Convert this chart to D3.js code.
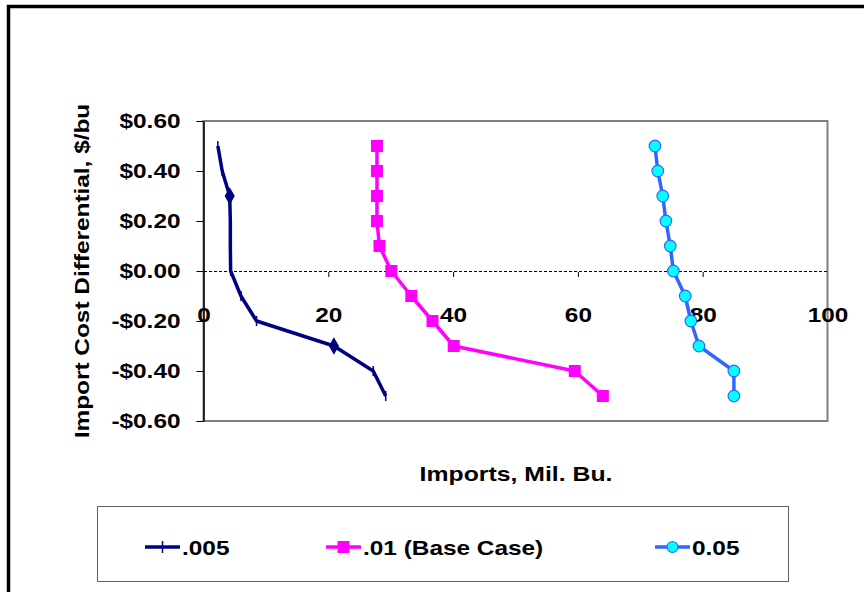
<!DOCTYPE html>
<html>
<head>
<meta charset="utf-8">
<script src="https://cdn.jsdelivr.net/npm/d3@7"></script>
<style>
  html, body { margin: 0; padding: 0; background: #fff; }
  svg { display: block; font-family: "Liberation Sans", Arial, sans-serif; }
</style>
</head>
<body>
<svg id="chart" width="864" height="592"></svg>
<script>
// Cost differential levels ($/bu), shared by all three series
const costDiff = [0.5, 0.4, 0.3, 0.2, 0.1, 0.0, -0.1, -0.2, -0.3, -0.4, -0.5];

// Imports (Mil. Bu.) by scenario
const imports005 = [2.3, 3.0, 4.2, 4.3, 4.3, 4.35, 6.0, 8.5, 20.9, 27.2, 29.2];
const imports01  = [27.8, 27.8, 27.8, 27.8, 28.2, 30.1, 33.3, 36.7, 40.1, 59.5, 64.0];
const imports05  = [72.35, 72.8, 73.6, 74.1, 74.8, 75.3, 77.2, 78.1, 79.4, 85.0, 85.0];

const seriesNames = [".005", ".01 (Base Case)", "0.05"];
const xTicks = [0, 20, 40, 60, 80, 100];
const yTicks = [0.6, 0.4, 0.2, 0.0, -0.2, -0.4, -0.6];

const FONT = "20.5px";
const SX = 1.19;   // wide lettering

const svg = d3.select("#chart");

// outer chart frame (left and top edges fall inside the view)
svg.append("rect")
  .attr("x", 8.5).attr("y", 6.5)
  .attr("width", 900).attr("height", 700)
  .attr("fill", "none").attr("stroke", "#000").attr("stroke-width", 3.5);

const plot = { left: 203.5, right: 827.5, top: 121, bottom: 421 };

const x = d3.scaleLinear().domain([0, 100]).range([plot.left, plot.right]);
const y = d3.scaleLinear().domain([-0.6, 0.6]).range([plot.bottom, plot.top]);

// plot area border
svg.append("rect")
  .attr("x", plot.left).attr("y", plot.top)
  .attr("width", plot.right - plot.left).attr("height", plot.bottom - plot.top)
  .attr("fill", "none").attr("stroke", "#7f7f7f").attr("stroke-width", 2);

// y axis
const yAxis = d3.axisLeft(y).tickValues(yTicks).tickSize(7).tickSizeOuter(0)
  .tickFormat(d => (d < 0 ? "-$" : "$") + Math.abs(d).toFixed(2));
const gy = svg.append("g").attr("transform", `translate(${plot.left},0)`).call(yAxis);
gy.select(".domain").attr("stroke", "#000").attr("stroke-width", 1.5);
gy.selectAll(".tick line").attr("stroke", "#000").attr("stroke-width", 1);
gy.selectAll(".tick text")
  .attr("x", -23 / SX)
  .attr("transform", `scale(${SX},1)`)
  .attr("fill", "#000")
  .style("font-size", FONT).style("font-weight", "bold");

// x axis sits at zero cost differential, dashed
const y0 = y(0);
const xAxis = d3.axisBottom(x).tickValues(xTicks).tickSize(6).tickSizeOuter(0);
const gx = svg.append("g").attr("transform", `translate(0,${y0})`).call(xAxis);
gx.select(".domain").attr("stroke", "#000").attr("stroke-width", 1)
  .attr("stroke-dasharray", "3,2");
gx.selectAll(".tick line").attr("stroke", "#000").attr("stroke-width", 1)
  .attr("y1", 1).attr("y2", 6);
gx.selectAll(".tick text")
  .attr("y", 51).attr("dy", null)
  .attr("transform", `scale(${SX},1)`)
  .attr("fill", "#000")
  .style("font-size", FONT).style("font-weight", "bold");
gx.selectAll(".tick").filter(d => d === 0 || d === 100).select("line").remove();

// axis titles
svg.append("text")
  .attr("transform", `translate(516,481) scale(${SX + 0.02},1)`)
  .attr("text-anchor", "middle")
  .style("font-size", FONT).style("font-weight", "bold")
  .text("Imports, Mil. Bu.");

svg.append("text")
  .attr("transform", `translate(89,271) rotate(-90) scale(${SX},1)`)
  .attr("text-anchor", "middle")
  .style("font-size", FONT).style("font-weight", "bold")
  .text("Import Cost Differential, $/bu");

const line = d3.line().x(d => x(d[0])).y(d => y(d[1]));
const pts = arr => arr.map((v, i) => [v, costDiff[i]]);

// .005 scenario: navy line with tick markers, diamonds at ±0.30
const s1 = pts(imports005);
svg.append("path").datum(s1).attr("d", line)
  .attr("fill", "none").attr("stroke", "#000080").attr("stroke-width", 3.5)
  .attr("stroke-linejoin", "round");
svg.append("g").selectAll("line").data(s1.filter(d => Math.abs(d[1]) !== 0.3)).join("line")
  .attr("x1", d => x(d[0])).attr("x2", d => x(d[0]))
  .attr("y1", d => y(d[1]) - 5).attr("y2", d => y(d[1]) + 5)
  .attr("stroke", "#000080").attr("stroke-width", 1.5);
svg.append("g").selectAll("path").data(s1.filter(d => Math.abs(d[1]) === 0.3)).join("path")
  .attr("d", d3.symbol(d3.symbolDiamond, 90))
  .attr("transform", d => `translate(${x(d[0])},${y(d[1])})`)
  .attr("fill", "#000080");

// .01 base case: magenta line with square markers
const s2 = pts(imports01);
svg.append("path").datum(s2).attr("d", line)
  .attr("fill", "none").attr("stroke", "#ff00ff").attr("stroke-width", 3.5)
  .attr("stroke-linejoin", "round");
svg.append("g").selectAll("rect").data(s2).join("rect")
  .attr("x", d => x(d[0]) - 6).attr("y", d => y(d[1]) - 6)
  .attr("width", 12).attr("height", 12)
  .attr("fill", "#ff00ff");

// 0.05 scenario: blue line with cyan circle markers
const s3 = pts(imports05);
svg.append("path").datum(s3).attr("d", line)
  .attr("fill", "none").attr("stroke", "#3366ff").attr("stroke-width", 3.5)
  .attr("stroke-linejoin", "round");
svg.append("g").selectAll("circle").data(s3).join("circle")
  .attr("cx", d => x(d[0])).attr("cy", d => y(d[1]))
  .attr("r", 5.8)
  .attr("fill", "#00ffff").attr("stroke", "#3366ff").attr("stroke-width", 1.2);

// legend
const legend = svg.append("g");
legend.append("rect")
  .attr("x", 97.5).attr("y", 506.5).attr("width", 691).attr("height", 75)
  .attr("fill", "#fff").attr("stroke", "#606060").attr("stroke-width", 1);

const legendItems = [
  { name: seriesNames[0], color: "#000080", x0: 145, marker: "tick" },
  { name: seriesNames[1], color: "#ff00ff", x0: 326, marker: "square" },
  { name: seriesNames[2], color: "#3366ff", x0: 655, marker: "circle" }
];
const ly = 547;
legendItems.forEach(it => {
  const g = legend.append("g");
  g.append("line").attr("x1", it.x0).attr("x2", it.x0 + 35)
    .attr("y1", ly).attr("y2", ly)
    .attr("stroke", it.color).attr("stroke-width", 3.5);
  const cx = it.x0 + 17.5;
  if (it.marker === "tick") {
    g.append("line").attr("x1", cx).attr("x2", cx).attr("y1", ly - 6).attr("y2", ly + 6)
      .attr("stroke", it.color).attr("stroke-width", 1.5);
  } else if (it.marker === "square") {
    g.append("rect").attr("x", cx - 6).attr("y", ly - 6).attr("width", 12).attr("height", 12)
      .attr("fill", it.color);
  } else {
    g.append("circle").attr("cx", cx).attr("cy", ly).attr("r", 5.5)
      .attr("fill", "#00ffff").attr("stroke", it.color).attr("stroke-width", 1.2);
  }
  g.append("text")
    .attr("transform", `translate(${it.x0 + 37},${ly + 8}) scale(${SX},1)`)
    .style("font-size", FONT).style("font-weight", "bold")
    .text(it.name);
});
</script>
</body>
</html>
